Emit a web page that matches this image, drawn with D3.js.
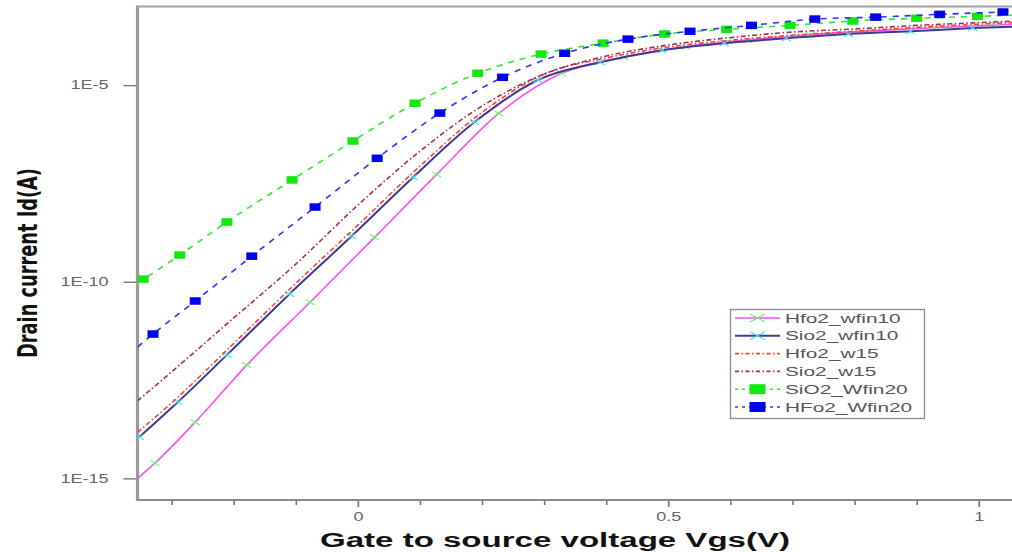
<!DOCTYPE html>
<html>
<head>
<meta charset="utf-8">
<script src="https://cdn.jsdelivr.net/npm/d3@7"></script>
<style>
  body { margin: 0; background: #fff; }
  svg { display: block; }
</style>
</head>
<body>
<svg id="chart" width="1012" height="552"></svg>
<script>
// Transfer characteristics Id–Vgs of the FinFET variants (log scale)

// Hfo2_wfin10
const vHfo2Wfin10  = [-0.355, -0.327, -0.262, -0.179, -0.077, 0.027, 0.127, 0.227, 0.328, 0.428, 0.528, 0.628, 0.728, 0.828, 0.928, 1.028, 1.06];
const idHfo2Wfin10 = [1.0e-15, 2.45e-15, 2.69e-14, 7.59e-13, 3.02e-11, 1.35e-9, 5.37e-8, 1.91e-6, 2.0e-5, 5.13e-5, 9.55e-5, 1.41e-4, 1.91e-4, 2.40e-4, 2.88e-4, 3.39e-4, 3.55e-4];

// Sio2_wfin10
const vSio2Wfin10  = [-0.352, -0.290, -0.211, -0.110, -0.010, 0.089, 0.188, 0.290, 0.390, 0.490, 0.590, 0.690, 0.790, 0.890, 0.990, 1.06];
const idSio2Wfin10 = [1.12e-14, 8.71e-14, 1.38e-12, 4.90e-11, 1.45e-9, 4.57e-8, 1.15e-6, 1.35e-5, 3.80e-5, 7.76e-5, 1.17e-4, 1.55e-4, 2.0e-4, 2.34e-4, 2.82e-4, 3.09e-4];

// Hfo2_w15
const vHfo2W15  = [-0.355, -0.3, -0.2, -0.1, 0, 0.1, 0.2, 0.3, 0.4, 0.5, 0.6, 0.7, 0.8, 0.9, 1.0, 1.06];
const idHfo2W15 = [1.48e-14, 8.32e-14, 2.69e-12, 9.12e-11, 2.75e-9, 8.71e-8, 2.04e-6, 1.91e-5, 4.90e-5, 9.33e-5, 1.38e-4, 1.86e-4, 2.34e-4, 2.95e-4, 3.55e-4, 3.98e-4];

// Sio2_w15
const vSio2W15  = [-0.355, -0.3, -0.2, -0.1, 0, 0.1, 0.2, 0.3, 0.4, 0.5, 0.6, 0.7, 0.8, 0.9, 1.0, 1.06];
const idSio2W15 = [9.33e-14, 5.13e-13, 1.20e-11, 2.82e-10, 8.91e-9, 2.09e-7, 2.95e-6, 1.91e-5, 5.50e-5, 1.05e-4, 1.62e-4, 2.24e-4, 2.69e-4, 3.31e-4, 3.89e-4, 4.27e-4];

// SiO2_Wfin20
const vSiO2Wfin20  = [-0.355, -0.346, -0.287, -0.211, -0.106, -0.008, 0.092, 0.193, 0.295, 0.395, 0.494, 0.594, 0.696, 0.797, 0.900, 0.998, 1.06];
const idSiO2Wfin20 = [9.77e-11, 1.17e-10, 4.79e-10, 3.31e-9, 3.89e-8, 3.80e-7, 3.47e-6, 2.0e-5, 6.17e-5, 1.17e-4, 2.0e-4, 2.63e-4, 3.31e-4, 4.27e-4, 5.01e-4, 5.62e-4, 6.03e-4];

// HFo2_Wfin20
const vHFo2Wfin20  = [-0.355, -0.330, -0.262, -0.171, -0.069, 0.031, 0.132, 0.233, 0.333, 0.435, 0.535, 0.634, 0.736, 0.834, 0.937, 1.039, 1.06];
const idHFo2Wfin20 = [2.19e-12, 4.68e-12, 3.24e-11, 4.47e-10, 7.94e-9, 1.38e-7, 1.95e-6, 1.58e-5, 6.46e-5, 1.48e-4, 2.34e-4, 3.31e-4, 4.79e-4, 5.37e-4, 6.31e-4, 7.24e-4, 7.41e-4];

const seriesNames = ["Hfo2_wfin10", "Sio2_wfin10", "Hfo2_w15", "Sio2_w15", "SiO2_Wfin20", "HFo2_Wfin20"];

const xTickValues = [-0.3, -0.2, -0.1, 0, 0.1, 0.2, 0.3, 0.4, 0.5, 0.6, 0.7, 0.8, 0.9, 1.0];
const xTickLabels = ["", "", "", "0", "", "", "", "", "0.5", "", "", "", "", "1"];
const yTickValues = [1e-15, 1e-10, 1e-5];
const yTickLabels = ["1E-15", "1E-10", "1E-5"];

const xTitle = "Gate to source voltage Vgs(V)";
const yTitle = "Drain current Id(A)";

// ---- drawing ----
const svg = d3.select("#chart");
const X_MIN = -0.355, X_MAX = 1.06;
const plot = { left: 137.5, right: 1016, top: 6.5, bottom: 500 };

const x = d3.scaleLinear().domain([X_MIN, X_MAX]).range([plot.left, plot.right]);
const y = d3.scaleLog().domain([Math.pow(10, -15.55), 1e-3]).range([plot.bottom, plot.top]);

const styles = [
  { color: "#ff4ff0", width: 1.6, dash: null,            marker: "x",      mcolor: "#70ee70" },
  { color: "#3b3b95", width: 2.0, dash: null,            marker: "x",      mcolor: "#40dede" },
  { color: "#ff3c3c", width: 1.6, dash: "5,2.5,1.5,2.5", marker: null },
  { color: "#a53048", width: 1.6, dash: "5,2.5,1.5,2.5", marker: null },
  { color: "#2fe82f", width: 1.6, dash: "6,6",           marker: "square", mcolor: "#10e810" },
  { color: "#3030ff", width: 1.6, dash: "6,6",           marker: "square", mcolor: "#0000f0" }
];

const seriesData = [
  [vHfo2Wfin10, idHfo2Wfin10],
  [vSio2Wfin10, idSio2Wfin10],
  [vHfo2W15, idHfo2W15],
  [vSio2W15, idSio2W15],
  [vSiO2Wfin20, idSiO2Wfin20],
  [vHFo2Wfin20, idHFo2Wfin20]
].map(([vs, ids]) => vs.map((v, i) => ({ v, id: ids[i] })));

// clip to plot area
svg.append("defs").append("clipPath").attr("id", "plotClip")
  .append("rect")
  .attr("x", plot.left).attr("y", plot.top)
  .attr("width", plot.right - plot.left).attr("height", plot.bottom - plot.top);

const font = "'Liberation Sans', Arial, sans-serif";

// stretch a text element horizontally
function stretch(sel, k) {
  sel.each(function () {
    const w = this.getComputedTextLength();
    if (w > 0) {
      d3.select(this).attr("textLength", w * k).attr("lengthAdjust", "spacingAndGlyphs");
    }
  });
}

// x axis
const xAxis = svg.append("g")
  .attr("transform", `translate(0,${plot.bottom})`)
  .call(d3.axisBottom(x).tickValues(xTickValues)
    .tickFormat((d, i) => xTickLabels[i]).tickSize(5).tickPadding(7));
xAxis.select(".domain").remove();
xAxis.selectAll(".tick line")
  .attr("stroke", "#777").attr("stroke-width", 1.6)
  .attr("y2", (d, i) => xTickLabels[i] ? 7 : 5);
xAxis.selectAll(".tick text")
  .attr("fill", "#666").attr("font-family", font).attr("font-size", 12)
  .call(stretch, 1.5);

// y axis
const yAxis = svg.append("g")
  .attr("transform", `translate(${plot.left},0)`)
  .call(d3.axisLeft(y).tickValues(yTickValues)
    .tickFormat((d, i) => yTickLabels[i]).tickSize(14).tickPadding(15));
yAxis.select(".domain").remove();
yAxis.selectAll(".tick line").attr("stroke", "#777").attr("stroke-width", 1.4);
yAxis.selectAll(".tick text")
  .attr("fill", "#666").attr("font-family", font).attr("font-size", 12)
  .call(stretch, 1.5);

// frame lines
svg.append("line")
  .attr("x1", plot.left).attr("x2", 1012)
  .attr("y1", plot.top).attr("y2", plot.top)
  .attr("stroke", "#a0a0a0").attr("stroke-width", 2.2);
svg.append("line")
  .attr("x1", plot.left).attr("x2", 1012)
  .attr("y1", plot.bottom).attr("y2", plot.bottom)
  .attr("stroke", "#8a8a8a").attr("stroke-width", 2.2);
svg.append("line")
  .attr("x1", plot.left).attr("x2", plot.left)
  .attr("y1", plot.top - 1).attr("y2", plot.bottom + 1)
  .attr("stroke", "#9a9a9a").attr("stroke-width", 3.2);

// curves
const line = d3.line()
  .x(d => x(d.v))
  .y(d => y(d.id))
  .curve(d3.curveMonotoneX);

const plotG = svg.append("g").attr("clip-path", "url(#plotClip)");

function drawMarker(g, type, color, cx, cy, big) {
  if (type === "x") {
    const w = big ? 7.5 : 4.5, h = big ? 4 : 2.8;
    g.append("path")
      .attr("d", `M${cx - w},${cy - h}L${cx + w},${cy + h}M${cx - w},${cy + h}L${cx + w},${cy - h}`)
      .attr("stroke", color).attr("stroke-width", 1.1).attr("fill", "none");
  } else if (type === "square") {
    const w = big ? 16 : 11, h = big ? 10 : 7.5;
    g.append("rect")
      .attr("x", cx - w / 2).attr("y", cy - h / 2)
      .attr("width", w).attr("height", h)
      .attr("fill", color);
  }
}

seriesData.forEach((pts, si) => {
  const st = styles[si];
  const p = plotG.append("path")
    .datum(pts)
    .attr("d", line)
    .attr("fill", "none")
    .attr("stroke", st.color)
    .attr("stroke-width", st.width);
  if (st.dash) p.attr("stroke-dasharray", st.dash);
  if (st.marker) {
    const mg = plotG.append("g");
    pts.filter(d => d.v > X_MIN && d.v < X_MAX).forEach(d => {
      drawMarker(mg, st.marker, st.mcolor, x(d.v), y(d.id), false);
    });
  }
});

// axis titles
svg.append("text")
  .attr("x", 555).attr("y", 547)
  .attr("text-anchor", "middle")
  .attr("font-family", font).attr("font-weight", "bold").attr("font-size", 20)
  .attr("fill", "#111")
  .attr("textLength", 470).attr("lengthAdjust", "spacingAndGlyphs")
  .text(xTitle);

svg.append("text")
  .attr("transform", "translate(37,263) rotate(-90)")
  .attr("text-anchor", "middle")
  .attr("font-family", "'Liberation Sans Narrow', 'DejaVu Sans Condensed', Arial, sans-serif")
  .attr("font-weight", "bold")
  .attr("font-size", 26)
  .attr("fill", "#111")
  .attr("textLength", 190).attr("lengthAdjust", "spacingAndGlyphs")
  .text(yTitle);

// legend
const legend = svg.append("g");
legend.append("rect")
  .attr("x", 730.5).attr("y", 309.5).attr("width", 194).attr("height", 109)
  .attr("fill", "#fff").attr("stroke", "#8a8a8a").attr("stroke-width", 1.3);

seriesNames.forEach((name, i) => {
  const st = styles[i];
  const cy = 318 + i * 17.8;
  const l = legend.append("line")
    .attr("x1", 735).attr("x2", 780).attr("y1", cy).attr("y2", cy)
    .attr("stroke", st.color).attr("stroke-width", st.width);
  if (st.dash) l.attr("stroke-dasharray", st.dash === "6,6" ? "3,4" : "4,2.5,1.5,2.5");
  if (st.marker) drawMarker(legend, st.marker, st.mcolor, 757.5, cy, true);
  legend.append("text")
    .attr("x", 785).attr("y", cy + 4.5)
    .attr("font-family", font).attr("font-size", 13)
    .attr("fill", "#555")
    .text(name)
    .call(stretch, 1.6);
});
</script>
</body>
</html>
